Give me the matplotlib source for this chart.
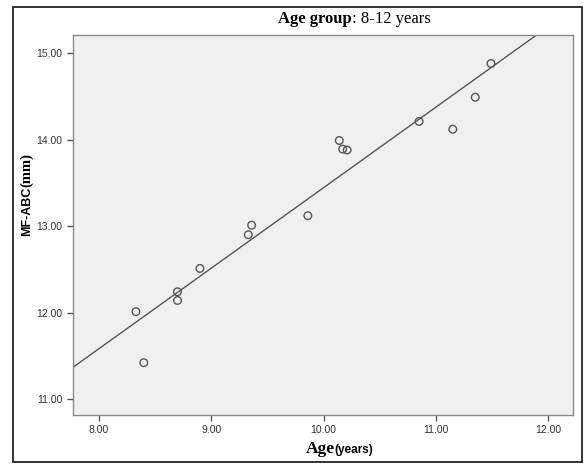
import matplotlib
matplotlib.use("Agg")
import matplotlib.pyplot as plt
import numpy as np
from matplotlib.patches import Rectangle

# ages (years) and MF-ABC (mm)
age = [8.33, 8.40, 8.70, 8.70, 8.90, 9.33, 9.36, 9.86,
       10.14, 10.17, 10.21, 10.85, 11.15, 11.35, 11.49]
mf_abc = [12.01, 11.42, 12.24, 12.14, 12.51, 12.90, 13.01, 13.12,
          13.99, 13.89, 13.88, 14.21, 14.12, 14.49, 14.88]

x_ticks = [8.0, 9.0, 10.0, 11.0, 12.0]
y_ticks = [11.0, 12.0, 13.0, 14.0, 15.0]

SERIF = "Liberation Serif"
SANS = "Liberation Sans"

W, H = 585, 466
fig = plt.figure(figsize=(W / 100, H / 100), dpi=100)
fig.patch.set_facecolor("white")

# outer frame around the whole figure
fig.patches.append(Rectangle((13 / W, 1 - 462 / H), 569 / W, 455 / H,
                             transform=fig.transFigure, fill=False,
                             edgecolor="#222222", linewidth=1.3))

ax = fig.add_axes([73 / W, 1 - 415 / H, 500 / W, 380 / H])
ax.set_facecolor("#f0f0f0")
for s in ax.spines.values():
    s.set_color("#8a8a8a")
    s.set_linewidth(1.0)

ax.scatter(age, mf_abc, s=30, facecolors="none", edgecolors="#555555",
           linewidths=1.0, zorder=3)

# linear fit line
coef = np.polyfit(age, mf_abc, 1)
xl = np.array([7.6, 12.4])
ax.plot(xl, np.polyval(coef, xl), color="#555555", linewidth=1.0, zorder=2)

ax.set_xlim(7.77, 12.22)
ax.set_ylim(10.815, 15.21)
ax.set_xticks(x_ticks)
ax.set_yticks(y_ticks)
ax.set_xticklabels([f"{v:.2f}" for v in x_ticks])
ax.set_yticklabels([f"{v:.2f}" for v in y_ticks])
ax.tick_params(direction="out", length=4, width=1, color="#555555",
               labelsize=7.5, labelcolor="#333333")
for lab in ax.get_xticklabels() + ax.get_yticklabels():
    lab.set_fontfamily(SANS)

# title: bold part + normal part
ty = 1 - 19 / H
fig.text(352 / W, ty, "Age group", family=SERIF, weight="bold",
         fontsize=12, ha="right", va="center")
fig.text(352 / W, ty, ": 8-12 years", family=SERIF, fontsize=12,
         ha="left", va="center")

# x label
xy = 1 - 453 / H
fig.text(335 / W, xy, "Age", family=SERIF, weight="bold", fontsize=12.5,
         ha="right", va="baseline")
fig.text(334 / W, xy, "(years)", family=SANS, weight="bold", fontsize=8.5,
         ha="left", va="baseline")

# y label
ys = 1 - 187 / H
fig.text(27 / W, ys, "MF-ABC", family=SANS, weight="bold", fontsize=9,
         rotation=90, ha="center", va="top")
fig.text(27 / W, ys, "(mm)", family=SERIF, weight="bold", fontsize=10.5,
         rotation=90, ha="center", va="bottom")

fig.savefig("out.png", dpi=100)
